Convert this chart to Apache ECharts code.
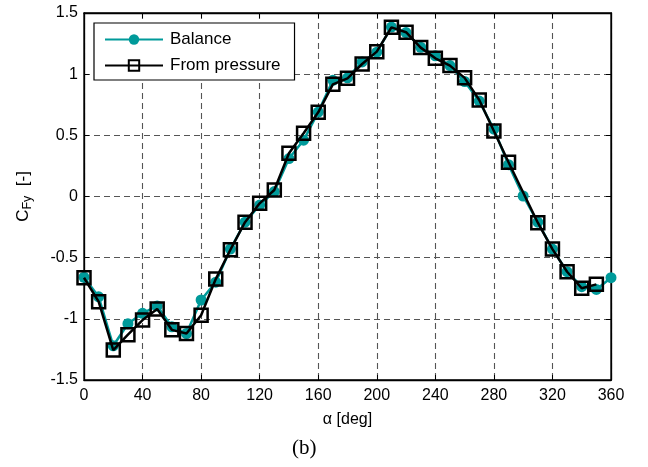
<!DOCTYPE html>
<html>
<head>
<meta charset="utf-8">
<script src="https://cdn.jsdelivr.net/npm/echarts@6/dist/echarts.min.js"></script>
<style>
  html, body { margin: 0; padding: 0; background: #fff; }
  #chart { width: 648px; height: 467px; }
</style>
</head>
<body>
<div id="chart"></div>
<script>
// angles of attack [deg]
var alphaBalance = [0, 10, 20, 30, 40, 50, 60, 70, 80, 90, 100, 110, 120, 130, 140, 150, 160, 170, 180,
  190, 200, 210, 220, 230, 240, 250, 260, 270, 280, 290, 300, 310, 320, 330, 340, 350, 360];
var cfyBalance = [-0.66, -0.82, -1.22, -1.04, -0.955, -0.895, -1.065, -1.12, -0.846, -0.70, -0.43, -0.21, -0.07, 0.04, 0.31, 0.46, 0.69, 0.95, 0.97,
  1.10, 1.18, 1.385, 1.34, 1.22, 1.15, 1.07, 0.94, 0.78, 0.55, 0.26, 0.004, -0.21, -0.43, -0.615, -0.737, -0.76, -0.664];

// pressure integration has no point at 300 deg, ends at 350
var alphaPressure = [0, 10, 20, 30, 40, 50, 60, 70, 80, 90, 100, 110, 120, 130, 140, 150, 160, 170, 180,
  190, 200, 210, 220, 230, 240, 250, 260, 270, 280, 290, 310, 320, 330, 340, 350];
var cfyPressure = [-0.664, -0.86, -1.255, -1.13, -1.01, -0.92, -1.09, -1.12, -0.97, -0.675, -0.435, -0.21, -0.056, 0.053, 0.353, 0.517, 0.688, 0.917, 0.966,
  1.083, 1.184, 1.383, 1.343, 1.217, 1.13, 1.07, 0.97, 0.789, 0.536, 0.28, -0.214, -0.43, -0.615, -0.75, -0.718];

var xTicks = [0, 40, 80, 120, 160, 200, 240, 280, 320, 360];
var yTicks = [-1.5, -1, -0.5, 0, 0.5, 1, 1.5];

function pairs(xs, ys) {
  return xs.map(function (x, i) { return [x, ys[i]]; });
}

var teal = '#009a9a';
var font = 'Liberation Sans, Arial, sans-serif';
var gridLine = { show: true, lineStyle: { color: '#555', type: [6, 4], width: 1.1 } };

var chart = echarts.init(document.getElementById('chart'));
chart.setOption({
  animation: false,
  backgroundColor: '#fff',
  grid: { left: 84, right: 37, top: 13, bottom: 87, show: true, borderColor: '#000', borderWidth: 1.3 },
  legend: {
    left: 94, top: 23,
    orient: 'vertical',
    backgroundColor: '#fff',
    borderColor: '#000', borderWidth: 1.2,
    padding: [8, 14, 6, 10],
    itemGap: 9,
    itemWidth: 58, itemHeight: 13,
    textStyle: { fontFamily: font, fontSize: 17, color: '#000', padding: [0, 0, 0, 2] },
    data: ['Balance', 'From pressure']
  },
  xAxis: [{
    type: 'value', min: 0, max: 360, interval: 40,
    axisLine: { show: true, onZero: false, lineStyle: { color: '#000', width: 1.3 } },
    axisTick: { show: true, inside: true, length: 5, lineStyle: { color: '#000' } },
    axisLabel: { fontFamily: font, fontSize: 16, color: '#000', margin: 8,
      formatter: function (v) { return xTicks.indexOf(v) >= 0 ? String(v) : ''; } },
    splitLine: gridLine,
    name: 'α [deg]', nameLocation: 'middle', nameGap: 32,
    nameTextStyle: { fontFamily: font, fontSize: 16, color: '#000' }
  }, {
    type: 'value', min: 0, max: 360, interval: 40, position: 'top',
    axisLine: { show: true, onZero: false, lineStyle: { color: '#000', width: 1.3 } },
    axisTick: { show: true, inside: true, length: 5, lineStyle: { color: '#000' } },
    axisLabel: { show: false }, splitLine: { show: false }
  }],
  yAxis: [{
    type: 'value', min: -1.5, max: 1.5, interval: 0.5,
    axisLine: { show: true, onZero: false, lineStyle: { color: '#000', width: 1.3 } },
    axisTick: { show: true, inside: true, length: 5, lineStyle: { color: '#000' } },
    axisLabel: { fontFamily: font, fontSize: 16, color: '#000', margin: 6,
      formatter: function (v) { return yTicks.indexOf(v) >= 0 ? String(v) : ''; } },
    splitLine: gridLine,
    name: '{c|C}{s|Fy}{c|  [-]}', nameLocation: 'middle', nameGap: 50, nameRotate: 90,
    nameTextStyle: {
      rich: {
        c: { fontFamily: font, fontSize: 17, color: '#000' },
        s: { fontFamily: font, fontSize: 12.5, color: '#000', verticalAlign: 'bottom', padding: [8, 0, 0, 0] }
      }
    }
  }, {
    type: 'value', min: -1.5, max: 1.5, interval: 0.5, position: 'right',
    axisLine: { show: true, onZero: false, lineStyle: { color: '#000', width: 1.3 } },
    axisTick: { show: true, inside: true, length: 5, lineStyle: { color: '#000' } },
    axisLabel: { show: false }, splitLine: { show: false }
  }],
  graphic: [{
    type: 'text', left: 292, top: 438,
    style: { text: '(b)', font: '21px "Liberation Serif", "Times New Roman", serif', fill: '#000' }
  }],
  series: [{
    name: 'Balance', type: 'line',
    data: pairs(alphaBalance, cfyBalance),
    symbol: 'circle', symbolSize: 11,
    lineStyle: { color: teal, width: 2.5 },
    itemStyle: { color: teal },
    z: 2
  }, {
    name: 'From pressure', type: 'line',
    data: pairs(alphaPressure, cfyPressure),
    symbol: 'rect', symbolSize: 13,
    lineStyle: { color: '#000', width: 2.5 },
    itemStyle: { color: 'rgba(255,255,255,0)', borderColor: '#000', borderWidth: 2.5 },
    z: 3
  }]
});
</script>
</body>
</html>
